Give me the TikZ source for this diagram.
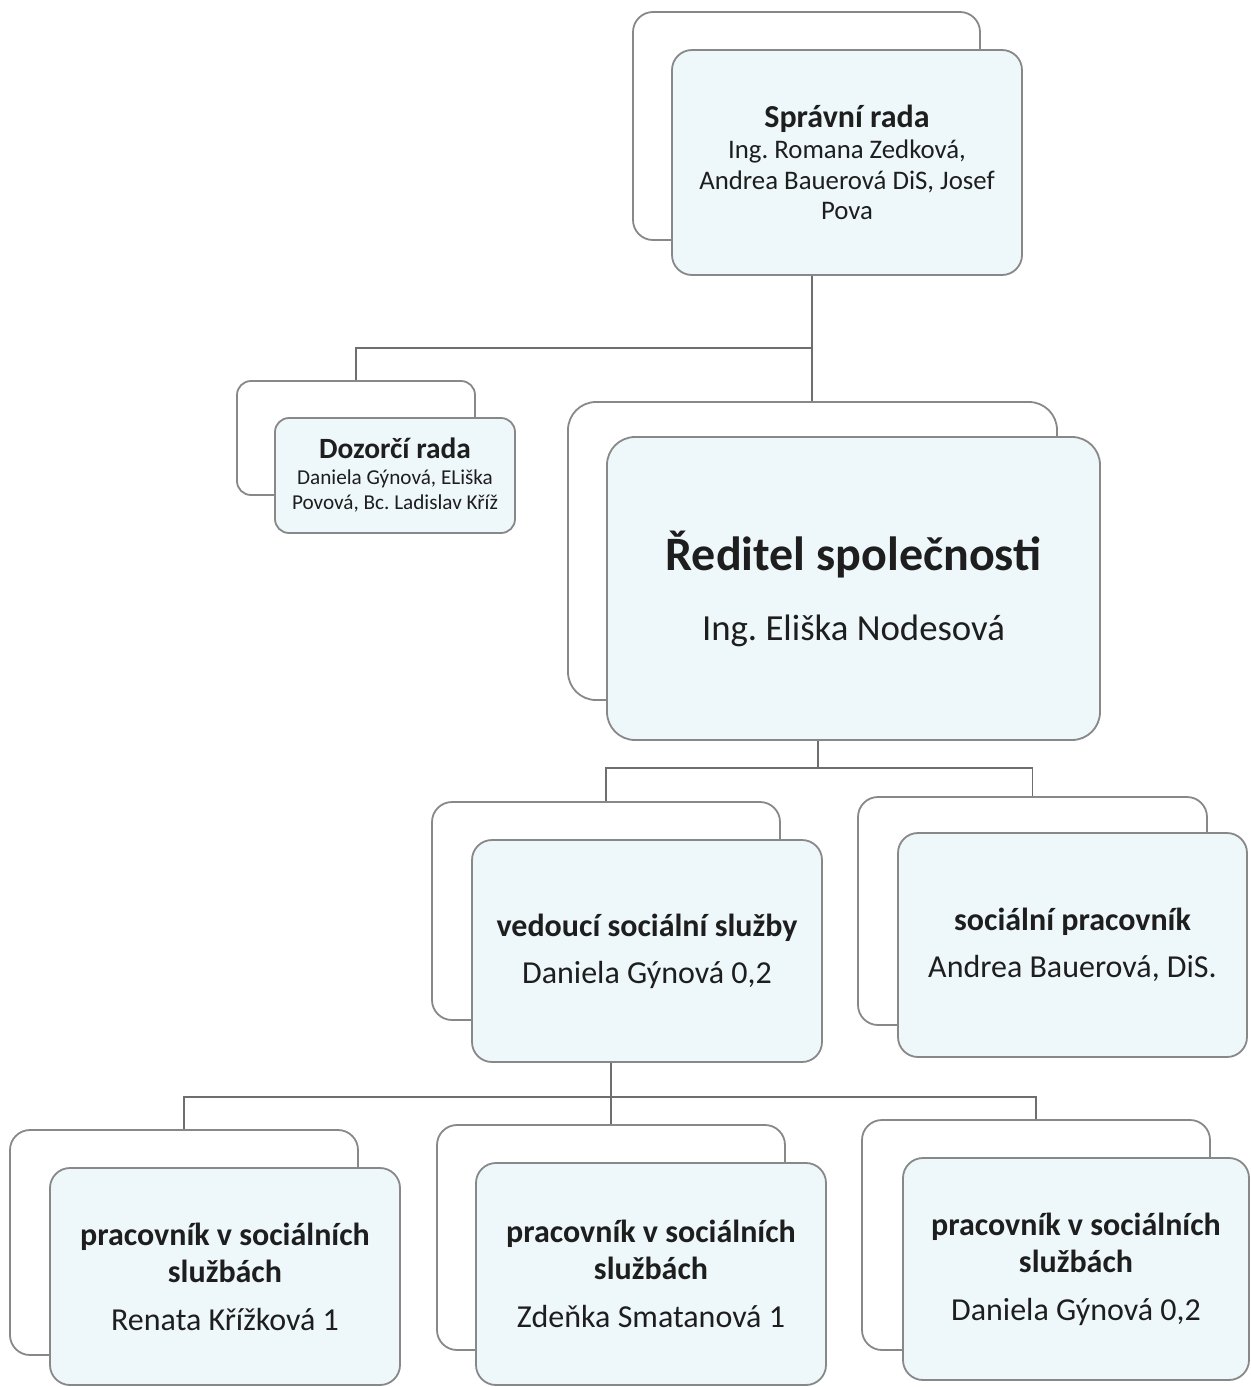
\documentclass[tikz,border=0pt]{standalone}
\usepackage{fontspec}
\setmainfont{Carlito}
\frenchspacing
\definecolor{frontfill}{HTML}{EEF8FA}
\definecolor{boxline}{HTML}{888888}
\definecolor{conn}{HTML}{6E6E6E}
\definecolor{txt}{HTML}{1E1E1E}
\begin{document}
\begin{tikzpicture}[x=0.5pt,y=-0.5pt,
  backbox/.style={draw=boxline, line width=0.9pt, fill=white, rounded corners=10pt, inner sep=0pt},
  frontbox/.style={draw=boxline, line width=0.9pt, fill=frontfill, rounded corners=10pt, inner sep=0pt, align=center, text=txt},
  connector/.style={draw=conn, line width=0.9pt}]
\useasboundingbox (0,0) rectangle (1250,1387);
% junction coordinates
\coordinate (j1) at (812,348);
\coordinate (j2) at (818,768);
\coordinate (j3) at (611,1097);
% back boxes
\node[backbox, minimum width=173.5pt, minimum height=114pt] (sback) at (806.5,126) {};
\node[backbox, minimum width=119pt, minimum height=57pt, rounded corners=7pt] (dback) at (356,438) {};
\node[backbox, minimum width=244.5pt, minimum height=149pt, rounded corners=14pt] (rback) at (812.5,551) {};
\node[backbox, minimum width=174pt, minimum height=109pt] (vback) at (606,911) {};
\node[backbox, minimum width=174.5pt, minimum height=114pt] (spback) at (1032.5,911) {};
\node[backbox, minimum width=174pt, minimum height=112.5pt] (p1back) at (184,1242.5) {};
\node[backbox, minimum width=174pt, minimum height=112.5pt] (p2back) at (611,1237.5) {};
\node[backbox, minimum width=174pt, minimum height=115pt] (p3back) at (1036,1235) {};
% front boxes
\node[frontbox, minimum width=175pt, minimum height=112.5pt, font=\fontsize{13.4}{15.4}\selectfont] (sfront) at (847,162.5)
  {{\fontsize{16}{15.4}\selectfont\bfseries Správní rada}\\
   Ing. Romana Zedková,\\ Andrea Bauerová DiS, Josef\\ Pova};
\node[frontbox, minimum width=120pt, minimum height=57.5pt, rounded corners=7pt, font=\fontsize{10.6}{12.5}\selectfont] (dfront) at (395,475.5)
  {{\fontsize{14.7}{12.5}\selectfont\bfseries Dozorčí rada}\\[0.5pt]
   Daniela Gýnová, ELiška\\ Povová, Bc. Ladislav Kříž};
\node[frontbox, minimum width=246.5pt, minimum height=151.5pt, rounded corners=14pt, font=\fontsize{18.4}{22}\selectfont] (rfront) at (853.5,588.5)
  {{\fontsize{24}{22}\selectfont\bfseries Ředitel společnosti}\\[13pt]
   Ing. Eliška Nodesová};
\node[frontbox, minimum width=175pt, minimum height=111pt, font=\fontsize{16}{19.2}\selectfont] (vfront) at (647,951)
  {{\bfseries vedoucí sociální služby}\\[4.3pt]
   Daniela Gýnová 0,2};
\node[frontbox, minimum width=174.5pt, minimum height=112pt, font=\fontsize{16}{19.2}\selectfont] (spfront) at (1072.5,945)
  {{\bfseries sociální pracovník}\\[4.3pt]
   Andrea Bauerová, DiS.};
\node[frontbox, minimum width=175pt, minimum height=108.5pt, font=\fontsize{16}{18.5}\selectfont] (p1front) at (225,1276.5)
  {{\bfseries pracovník v sociálních}\\ {\bfseries službách}\\[5.5pt]
   Renata Křížková 1};
\node[frontbox, minimum width=175pt, minimum height=111pt, font=\fontsize{16}{18.5}\selectfont] (p2front) at (651,1274)
  {{\bfseries pracovník v sociálních}\\ {\bfseries službách}\\[5.5pt]
   Zdeňka Smatanová 1};
\node[frontbox, minimum width=173pt, minimum height=111pt, font=\fontsize{16}{18.5}\selectfont] (p3front) at (1076,1269)
  {{\bfseries pracovník v sociálních}\\ {\bfseries službách}\\[5.5pt]
   Daniela Gýnová 0,2};
% connectors
\draw[connector] (sfront.south -| j1) -- (rback.north -| j1);
\draw[connector] (j1) -| (dback.north);
\draw[connector] (rfront.south -| j2) -- (j2);
\draw[connector] (vback.north) |- (j2) -| (spback.north);
\draw[connector] (vfront.south -| j3) -- (j3);
\draw[connector] (p1back.north) |- (j3) -| (p3back.north);
\draw[connector] (j3) -- (p2back.north -| j3);
\end{tikzpicture}
\end{document}
